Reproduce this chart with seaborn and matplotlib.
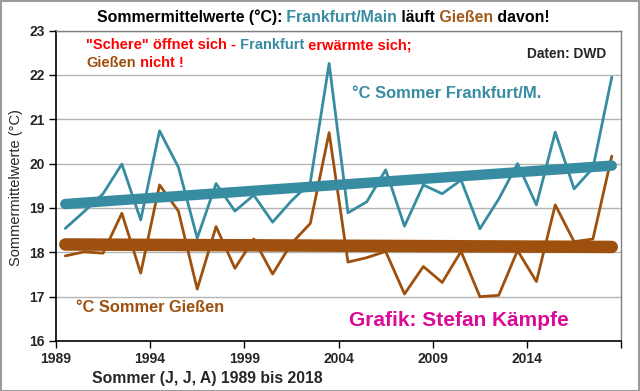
import numpy as np
import pandas as pd
import seaborn as sns
import matplotlib.pyplot as plt
from matplotlib.patches import Rectangle

# Sommermittel (J, J, A)
years = list(range(1989, 2019))
frankfurt = [18.54, 18.92, 19.32, 19.99, 18.73, 20.74, 19.92, 18.32, 19.55, 18.93,
             19.29, 18.68, 19.16, 19.57, 22.26, 18.89, 19.14, 19.86, 18.59, 19.52,
             19.32, 19.63, 18.53, 19.20, 20.00, 19.07, 20.71, 19.43, 19.90, 21.95]
giessen = [17.92, 18.01, 17.98, 18.88, 17.53, 19.52, 18.93, 17.17, 18.58, 17.64,
           18.30, 17.51, 18.20, 18.65, 20.70, 17.78, 17.88, 18.02, 17.06, 17.68,
           17.32, 18.02, 17.00, 17.03, 18.04, 17.34, 19.07, 18.24, 18.30, 20.17]
y_ticks = [16, 17, 18, 19, 20, 21, 22, 23]
x_ticks = [1989, 1994, 1999, 2004, 2009, 2014, 2019]
x_tick_labels = ['1989', '1994', '1999', '2004', '2009', '2014', '']

TEAL = '#378ca1'
BROWN = '#9e500e'
BROWN_TXT = '#a15a1a'
RED = '#ff0000'
MAGENTA = '#db0a96'

sns.set_theme(style='white')
plt.rcParams['font.family'] = ['Liberation Sans', 'DejaVu Sans']

df = pd.DataFrame({'Jahr': years, 'Frankfurt': frankfurt, 'Giessen': giessen})
df['pos'] = df['Jahr'] + 0.5

fig = plt.figure(figsize=(6.4, 3.91), dpi=100)
W, H = 640, 391
ax = fig.add_axes([55.9 / W, 1 - 341 / H, (621.2 - 55.9) / W, (341 - 30.6) / H])

sns.lineplot(data=df, x='pos', y='Frankfurt', color=TEAL, lw=2, ax=ax)
sns.lineplot(data=df, x='pos', y='Giessen', color=BROWN, lw=2, ax=ax)
sns.regplot(data=df, x='pos', y='Frankfurt', scatter=False, ci=None, truncate=True,
            color=TEAL, line_kws={'lw': 7.5, 'solid_capstyle': 'round'}, ax=ax)
sns.regplot(data=df, x='pos', y='Giessen', scatter=False, ci=None, truncate=True,
            color=BROWN, line_kws={'lw': 9, 'solid_capstyle': 'round'}, ax=ax)

ax.set_xlim(1989, 2019)
ax.set_ylim(16, 23)
ax.set_yticks(y_ticks)
ax.set_xticks(x_ticks)
ax.set_xticklabels(x_tick_labels)
ax.yaxis.grid(True, color='#b4b4b4', lw=1)
ax.xaxis.grid(False)
ax.set_axisbelow(True)
ax.set_xlabel('')
ax.set_ylabel('')
for s in ['left', 'bottom']:
    ax.spines[s].set_color('black')
    ax.spines[s].set_linewidth(1.2)
for s in ['top', 'right']:
    ax.spines[s].set_color('#7f7f7f')
    ax.spines[s].set_linewidth(1)
ax.tick_params(direction='out', length=5, width=1, color='black', labelsize=10,
               left=True, bottom=True, pad=3)
for lab in ax.get_xticklabels() + ax.get_yticklabels():
    lab.set_fontweight('bold')


def colored_line(x, y, parts, size, weight='bold'):
    t = fig.text(x / W, 1 - y / H, parts[0][0], color=parts[0][1], fontsize=size,
                 fontweight=weight, va='center', ha='left')
    for s, c in parts[1:]:
        t = ax.annotate(s, xy=(1, 0), xycoords=t, va='bottom', ha='left', color=c,
                        fontsize=size, fontweight=weight, annotation_clip=False)


colored_line(97, 17, [('Sommermittelwerte (°C):', 'black'), (' Frankfurt/Main', TEAL),
                      (' läuft', 'black'), (' Gießen', BROWN_TXT), (' davon!', 'black')],
             11.4)
colored_line(86, 45, [('"Schere" öffnet sich -', RED), (' Frankfurt', TEAL),
                      (' erwärmte sich;', RED)], 10.5)
colored_line(86, 63, [('Gießen', BROWN), (' nicht !', RED)], 10.5)

fig.text(527 / W, 1 - 54 / H, 'Daten: DWD', fontsize=9.9, fontweight='bold', va='center')
fig.text(352 / W, 1 - 94 / H, '°C Sommer Frankfurt/M.', fontsize=11.9, fontweight='bold',
         color=TEAL, va='center')
fig.text(76 / W, 1 - 307 / H, '°C Sommer Gießen', fontsize=11.8, fontweight='bold',
         color=BROWN, va='center')
fig.text(349 / W, 1 - 321 / H, 'Grafik: Stefan Kämpfe', fontsize=15, fontweight='bold',
         color=MAGENTA, va='center')
fig.text(92 / W, 1 - 379 / H, 'Sommer (J, J, A) 1989 bis 2018', fontsize=11.3,
         fontweight='bold', va='center')
fig.text(16 / W, 1 - 188 / H, 'Sommermittelwerte (°C)', fontsize=10.5, rotation=90,
         va='center', ha='center')

fig.patches.append(Rectangle((0.001, 0.001), 0.997, 0.997, transform=fig.transFigure,
                             fill=False, edgecolor='#9a9a9a', lw=1.5))

fig.savefig('out.png', dpi=100)
